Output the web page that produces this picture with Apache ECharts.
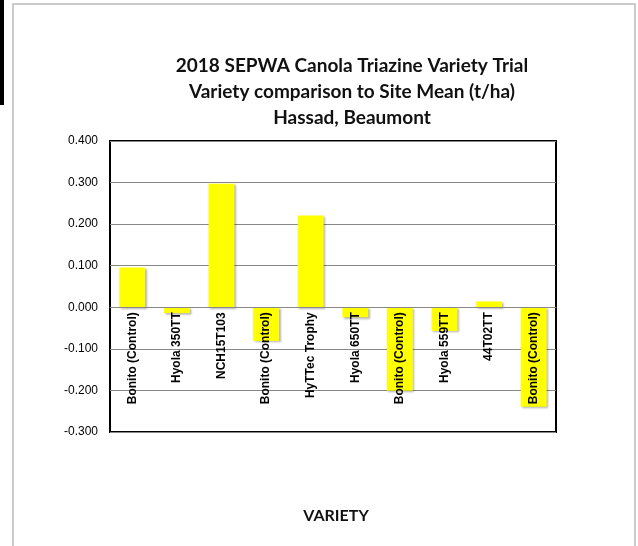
<!DOCTYPE html>
<html style="height: 100%;">
<head>
<meta charset="utf-8">
<title>SEPWA Canola Triazine Variety Trial</title>
<script type="text/javascript" src="https://cdn.jsdelivr.net/npm/echarts@6/dist/echarts.min.js"></script>
</head>
<body style="height: 100%; margin: 0;">
<div style="width: 638px; height: 546px;" id="chart"></div>
<script>
// varieties along the x axis
var varieties = ['Bonito (Control)', 'Hyola 350TT', 'NCH15T103', 'Bonito (Control)', 'HyTTec Trophy',
                 'Hyola 650TT', 'Bonito (Control)', 'Hyola 559TT', '44T02TT', 'Bonito (Control)'];
// difference to site mean, t/ha
var diffs = [0.096, -0.014, 0.297, -0.081, 0.221, -0.024, -0.201, -0.057, 0.014, -0.239];
var yTicks = { min: -0.3, max: 0.4, step: 0.1 };

var gridTop = 141, gridBottom = 114, chartH = 546;
var plotH = chartH - gridTop - gridBottom;
// move the category axis up to the zero line
var zeroOffset = -(0 - yTicks.min) / (yTicks.max - yTicks.min) * plotH;

var chart = echarts.init(document.getElementById('chart'));
var option = {
    animation: false,
    backgroundColor: '#fff',
    title: [{
        text: '2018 SEPWA Canola Triazine Variety Trial\nVariety comparison to Site Mean (t/ha)\nHassad, Beaumont',
        left: 347,
        top: 48,
        textAlign: 'center',
        textStyle: {
            fontFamily: 'Lato',
            fontWeight: 'bold',
            fontSize: 19,
            lineHeight: 26,
            color: '#111'
        }
    }, {
        text: 'VARIETY',
        left: 331,
        top: 503,
        textAlign: 'center',
        textStyle: { fontFamily: 'Lato', fontWeight: 'bold', fontSize: 16, color: '#111' }
    }],
    graphic: [
        // outer chart frame
        { type: 'rect', shape: { x: 13, y: 4, width: 622, height: 560 }, style: { fill: null, stroke: '#bbb', lineWidth: 1.5 }, z: -1 },
        // black strip at the left edge
        { type: 'rect', shape: { x: 0, y: 0, width: 4, height: 105 }, style: { fill: '#000' } }
    ],
    grid: {
        left: 110, right: 82, top: gridTop, bottom: gridBottom,
        show: true,
        borderColor: '#000',
        borderWidth: 2
    },
    xAxis: {
        type: 'category',
        data: varieties,
        offset: zeroOffset,
        z: 10,
        axisLine: { onZero: false, lineStyle: { color: '#888', width: 1 } },
        axisTick: { show: false },
        axisLabel: {
            rotate: 90,
            margin: 5,
            interval: 0,
            fontFamily: 'Liberation Sans',
            fontWeight: 'bold',
            fontSize: 12,
            color: '#000'
        }
    },
    yAxis: {
        type: 'value',
        min: yTicks.min,
        max: yTicks.max,
        interval: yTicks.step,
        axisLine: { show: false },
        axisTick: { show: false },
        splitLine: { lineStyle: { color: '#888', width: 1 } },
        axisLabel: {
            margin: 12,
            fontFamily: 'Liberation Sans',
            fontSize: 12,
            color: '#000',
            formatter: function (v) { return v.toFixed(3); }
        }
    },
    series: [{
        type: 'bar',
        data: diffs,
        barWidth: '58%',
        itemStyle: {
            color: '#ffff00',
            shadowColor: 'rgba(0,0,0,0.3)',
            shadowBlur: 2,
            shadowOffsetX: 1.5,
            shadowOffsetY: 1.5
        }
    }]
};
chart.setOption(option);
</script>
</body>
</html>
